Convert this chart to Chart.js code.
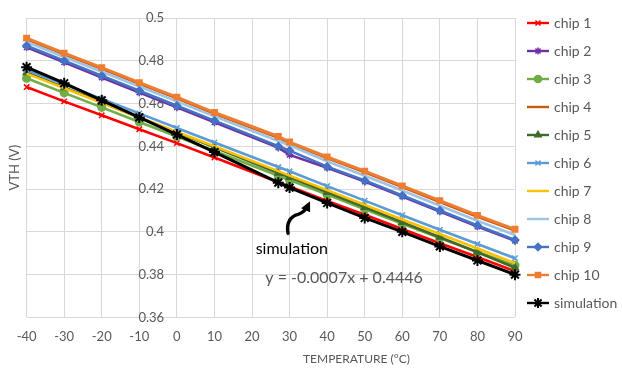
<!DOCTYPE html>
<html>
<head>
<meta charset="utf-8">
<script src="https://cdn.jsdelivr.net/npm/chart.js@4.4.0/dist/chart.umd.min.js"></script>
<style>
  html, body { margin: 0; padding: 0; background: #fff; }
  #wrap { width: 622px; height: 368px; }
</style>
</head>
<body>
<div id="wrap"><canvas id="vth" width="622" height="368"></canvas></div>
<script>
// temperatures (°C) where VTH was measured
const temps = [-40, -30, -20, -10, 0, 10, 27, 30, 40, 50, 60, 70, 80, 90];

const chip1 = [0.4677, 0.4610, 0.4545, 0.4480, 0.4415, 0.4348, 0.4232, 0.4212, 0.4145, 0.4080, 0.4013, 0.3947, 0.3882, 0.3816];
const chip2 = [0.4863, 0.4793, 0.4722, 0.4652, 0.4582, 0.4512, 0.4394, 0.4360, 0.4300, 0.4235, 0.4165, 0.4095, 0.4025, 0.3958];
const chip3 = [0.4718, 0.4650, 0.4582, 0.4514, 0.4446, 0.4378, 0.4262, 0.4242, 0.4174, 0.4106, 0.4038, 0.3971, 0.3906, 0.3844];
const chip4 = [0.4900, 0.4830, 0.4762, 0.4692, 0.4624, 0.4552, 0.4440, 0.4414, 0.4345, 0.4278, 0.4209, 0.4140, 0.4071, 0.4006];
const chip5 = [0.4745, 0.4675, 0.4605, 0.4535, 0.4465, 0.4395, 0.4275, 0.4255, 0.4185, 0.4115, 0.4045, 0.3975, 0.3905, 0.3832];
const chip6 = [0.4758, 0.4690, 0.4622, 0.4554, 0.4486, 0.4418, 0.4303, 0.4283, 0.4214, 0.4146, 0.4078, 0.4010, 0.3943, 0.3877];
const chip7 = [0.4740, 0.4672, 0.4603, 0.4535, 0.4467, 0.4400, 0.4284, 0.4263, 0.4195, 0.4126, 0.4058, 0.3990, 0.3922, 0.3853];
const chip8 = [0.4888, 0.4818, 0.4749, 0.4680, 0.4610, 0.4540, 0.4425, 0.4405, 0.4330, 0.4262, 0.4193, 0.4122, 0.4052, 0.3985];
const chip9 = [0.4870, 0.4800, 0.4730, 0.4660, 0.4590, 0.4520, 0.4400, 0.4380, 0.4305, 0.4240, 0.4170, 0.4100, 0.4030, 0.3962];
const chip10 = [0.4906, 0.4836, 0.4768, 0.4698, 0.4630, 0.4558, 0.4446, 0.4420, 0.4350, 0.4284, 0.4215, 0.4146, 0.4077, 0.4012];
const simulation = [0.4770, 0.4695, 0.4615, 0.4535, 0.4455, 0.4373, 0.4230, 0.4207, 0.4135, 0.4065, 0.4000, 0.3932, 0.3866, 0.3800];

const seriesNames = ['chip 1', 'chip 2', 'chip 3', 'chip 4', 'chip 5', 'chip 6', 'chip 7', 'chip 8', 'chip 9', 'chip 10', 'simulation'];
const seriesValues = [chip1, chip2, chip3, chip4, chip5, chip6, chip7, chip8, chip9, chip10, simulation];

const colors = ['#ff0000', '#7030a0', '#70ad47', '#c55a11', '#3f6a2a', '#5b9bd5', '#ffc000', '#9dc3e6', '#4472c4', '#ed7d31', '#000000'];
const markers = ['crossRot', 'star', 'circle', 'line', 'triangle', 'crossRot', 'line', 'line', 'rectRot', 'rect', 'star'];

const gray = '#595959';
const gridColor = '#d9d9d9';
const fontFam = 'Lato, "Open Sans", sans-serif';

const datasets = seriesNames.map((name, i) => {
    const isSim = name === 'simulation';
    return {
        label: name,
        data: temps.map((t, k) => ({ x: t, y: seriesValues[i][k] })),
        borderColor: colors[i],
        backgroundColor: colors[i],
        pointBackgroundColor: colors[i],
        pointBorderColor: colors[i],
        borderWidth: isSim ? 3 : (i === 9 ? 3 : 2.6),
        pointStyle: markers[i],
        pointRadius: isSim ? 5.5 : (markers[i] === 'line' ? 0 : 3.8),
        pointBorderWidth: isSim ? 2 : 1.5,
        tension: 0,
        clip: false,
        order: 10 - i,
    };
});

// little line + marker picture for each legend entry
function legendIcon(ds) {
    const cv = document.createElement('canvas');
    cv.width = 22;
    cv.height = 12;
    const g = cv.getContext('2d');
    g.strokeStyle = ds.borderColor;
    g.fillStyle = ds.borderColor;
    g.lineWidth = 2.4;
    g.beginPath();
    g.moveTo(0, 6);
    g.lineTo(22, 6);
    g.stroke();
    if (ds.pointStyle !== 'line' && Chart.helpers && Chart.helpers.drawPoint) {
        g.lineWidth = ds.pointBorderWidth;
        Chart.helpers.drawPoint(g, {
            pointStyle: ds.pointStyle,
            radius: ds.label === 'simulation' ? 5 : 3.6,
            borderWidth: ds.pointBorderWidth,
            rotation: 0
        }, 11, 6);
    }
    return cv;
}
const icons = datasets.map(legendIcon);

// arrow, "simulation" label, trend equation and x axis title
const notes = {
    id: 'notes',
    afterDatasetsDraw(chart) {
        const { ctx, scales: { x, y } } = chart;
        const ax = x.getPixelForValue(29.6);
        const ay = y.getPixelForValue(0.3993);
        ctx.save();
        ctx.strokeStyle = '#000';
        ctx.fillStyle = '#000';
        ctx.lineWidth = 3.4;
        ctx.lineCap = 'round';
        ctx.beginPath();
        ctx.moveTo(ax, ay);
        ctx.bezierCurveTo(ax - 2, ay - 10, ax + 2, ay - 17, ax + 10, ay - 19);
        ctx.quadraticCurveTo(ax + 16, ay - 21, ax + 18, ay - 25);
        ctx.stroke();
        // arrow head
        ctx.beginPath();
        ctx.moveTo(ax + 22, ay - 32);
        ctx.lineTo(ax + 13, ay - 25);
        ctx.lineTo(ax + 22, ay - 21);
        ctx.closePath();
        ctx.fill();

        ctx.textAlign = 'center';
        ctx.textBaseline = 'middle';
        ctx.font = '16px ' + fontFam;
        ctx.fillStyle = '#000';
        ctx.fillText('simulation', x.getPixelForValue(30.6), y.getPixelForValue(0.392));
        ctx.fillStyle = gray;
        ctx.fillText('y = -0.0007x + 0.4446', x.getPixelForValue(44.5), y.getPixelForValue(0.3785));

        ctx.font = '12px ' + fontFam;
        ctx.fillText('TEMPERATURE (°C)', x.getPixelForValue(47.8), chart.height - 9);
        ctx.restore();
    }
};

const config = {
    type: 'line',
    data: { datasets: datasets },
    options: {
        responsive: false,
        animation: false,
        layout: { padding: { left: 3, right: 0, top: 2, bottom: 11 } },
        plugins: {
            title: {
                display: true,
                text: '',
                fullSize: false,
                font: { size: 12 },
                padding: { top: 0, bottom: 1.6 }
            },
            legend: {
                position: 'right',
                align: 'start',
                maxWidth: 107,
                labels: {
                    usePointStyle: true,
                    pointStyleWidth: 18,
                    padding: 14,
                    color: gray,
                    font: { family: fontFam, size: 14 },
                    generateLabels: chart => chart.data.datasets.map((ds, i) => ({
                        text: ds.label,
                        pointStyle: icons[i],
                        fontColor: gray,
                        fillStyle: 'transparent',
                        strokeStyle: 'transparent',
                        lineWidth: 0,
                        hidden: false,
                        datasetIndex: i
                    }))
                }
            },
            tooltip: { enabled: false }
        },
        scales: {
            x: {
                type: 'linear',
                min: -40,
                max: 90,
                border: { display: false },
                grid: { color: gridColor, drawTicks: false },
                ticks: {
                    stepSize: 10,
                    padding: 12,
                    color: gray,
                    font: { family: fontFam, size: 13 }
                }
            },
            y: {
                position: 'left',
                min: 0.36,
                max: 0.5,
                border: { display: false },
                grid: { color: gridColor, drawTicks: false },
                ticks: { stepSize: 0.02, display: false },
                title: {
                    display: true,
                    text: 'VTH (V)',
                    color: gray,
                    font: { family: fontFam, size: 13 }
                }
            },
            // value labels sit just left of the 0 °C line, as in the original
            yLabels: {
                type: 'linear',
                position: { x: -3.4 },
                min: 0.36,
                max: 0.5,
                border: { display: false },
                grid: { display: false },
                ticks: {
                    stepSize: 0.02,
                    color: gray,
                    font: { family: fontFam, size: 13 },
                    callback: v => Number(v.toFixed(2)).toString()
                }
            }
        }
    },
    plugins: [notes]
};

new Chart(document.getElementById('vth'), config);
</script>
</body>
</html>
